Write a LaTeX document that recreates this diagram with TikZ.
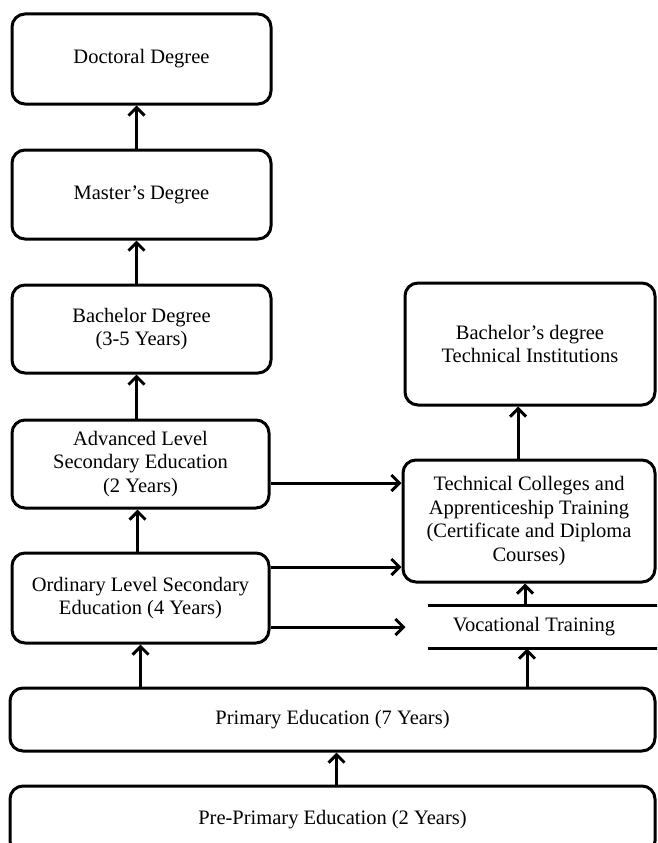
\documentclass[tikz,border=0pt]{standalone}
\usepackage{fontspec}
\setmainfont{Liberation Serif}
\usetikzlibrary{arrows.meta}

\begin{document}
\begin{tikzpicture}[x=1pt,y=-1pt,
    level/.style={draw,line width=3pt,rounded corners=13pt,align=center,inner sep=0pt,font=\fontsize{20.5}{23.5}\selectfont},
    flow/.style={line width=3pt,-{Straight Barb[length=8pt,width=16pt]}}]
        \pgfmathsetmacro{\w}{259}
        \clip (0,0) rectangle (657,843);
        \node [level,minimum width=\w pt,minimum height=90pt] (doc) at (141.5,59) {Doctoral Degree};
        \node [level,minimum width=\w pt,minimum height=89pt] (master) at (141.5,194.5) {Master’s Degree};
        \node [level,minimum width=\w pt,minimum height=88pt] (bach) at (141.5,329) {Bachelor Degree\\(3-5 Years)};
        \node [level,minimum width=257pt,minimum height=88pt] (adv) at (140.5,464) {Advanced Level\\Secondary Education\\(2 Years)};
        \node [level,minimum width=257pt,minimum height=90pt] (ord) at (140.5,598) {Ordinary Level Secondary\\Education (4 Years)};
        \node [level,minimum width=645pt,minimum height=63pt] (prim) at (332.5,719.5) {Primary Education (7 Years)};
        \node [level,minimum width=645pt,minimum height=68pt] (pre) at (332.5,820) {Pre-Primary Education (2 Years)};
        \node [level,minimum width=250pt,minimum height=122pt] (btech) at (530,344) {Bachelor’s degree\\Technical Institutions};
        \node [level,minimum width=252pt,minimum height=122pt] (tech) at (529,521) {Technical Colleges and\\Apprenticeship Training\\(Certificate and Diploma\\Courses)};
        \node [level,draw=none,minimum width=250pt,minimum height=40pt] (voc) at (534,627) {Vocational Training};
        \draw [line width=3pt] ([xshift=20pt]voc.north west) -- (voc.north east) ([xshift=20pt]voc.south west) -- (voc.south east);
        \draw [flow] ([xshift=-5pt]master.north) -- ([xshift=-5pt]doc.south);
        \draw [flow] ([xshift=-5pt]bach.north) -- ([xshift=-5pt]master.south);
        \draw [flow] ([xshift=-4pt]adv.north) -- ([xshift=-4pt]adv.north |- bach.south);
        \draw [flow] ([xshift=-3pt]ord.north) -- ([xshift=-3pt]adv.south);
        \draw [flow] (ord.south |- prim.north) -- (ord.south);
        \draw [flow] ([xshift=4pt]pre.north) -- ([xshift=4pt]prim.south);
        \draw [flow] ([yshift=-19pt]adv.east) -- ([yshift=-19pt]adv.east -| tech.west);
        \draw [flow] ([yshift=-46pt]tech.west -| ord.east) -- ([yshift=-46pt]tech.west);
        \draw [flow] ([yshift=-29pt]ord.east) -- ++(135,0);
        \draw [flow] ([xshift=-7pt]voc.south |- prim.north) -- ([xshift=-7pt]voc.south);
        \draw [flow] ([xshift=-4pt]tech.south |- voc.north) -- ([xshift=-4pt]tech.south);
        \draw [flow] ([xshift=-12pt]btech.south |- tech.north) -- ([xshift=-12pt]btech.south);
    \end{tikzpicture}
\end{document}
